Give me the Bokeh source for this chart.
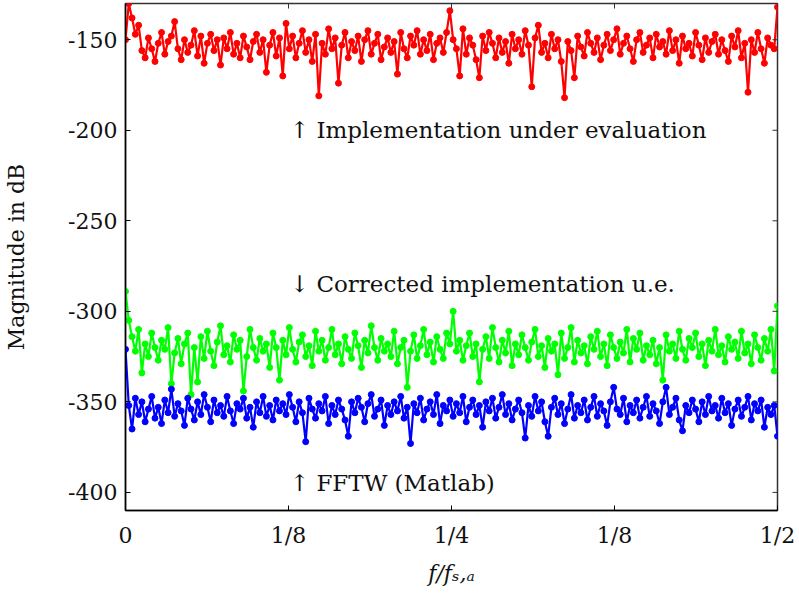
from bokeh.plotting import figure
from bokeh.models import FixedTicker, Range1d
from bokeh.core.properties import value
from bokeh.embed import file_html
from bokeh.resources import INLINE

red_db = [
    -150, -130, -138, -147, -142, -156, -160, -149, -155, -162,
    -152, -146, -158, -151, -148, -140, -155, -161, -150, -157,
    -153, -145, -159, -148, -163, -152, -147, -156, -150, -164,
    -149, -155, -146, -158, -152, -160, -148, -154, -161, -151,
    -147, -157, -150, -168, -153, -146, -159, -149, -170, -141,
    -155, -148, -160, -152, -145, -157, -150, -162, -147, -181,
    -152, -158, -144, -155, -149, -174, -153, -146, -160, -151,
    -156, -148, -162, -150, -145, -158, -152, -147, -161, -154,
    -149, -157, -151, -169, -146, -155, -160, -148, -153, -145,
    -158, -150, -156, -147, -161, -152, -149, -157, -146, -134,
    -150, -155, -170, -144, -158, -149, -153, -161, -171, -148,
    -156, -146, -152, -160, -149, -157, -151, -163, -147, -155,
    -150, -158, -145, -153, -176, -149, -142, -157, -152, -160,
    -147, -155, -150, -162, -182, -151, -156, -171, -148, -154,
    -159, -146, -152, -157, -149, -161, -153, -147, -156, -150,
    -144, -158, -152, -148, -155, -162, -150, -146, -157, -153,
    -149, -160, -147, -154, -151, -158, -145, -156, -150, -163,
    -148, -155, -152, -159, -146, -153, -161, -149, -157, -151,
    -147, -158, -150, -156, -162, -148, -154, -145, -160, -152,
    -179, -150, -157, -146, -155, -163, -149, -153, -155, -132,
]

green_db = [
    -289, -305, -314, -322, -310, -334, -318, -325, -312, -320,
    -327, -316, -321, -309, -340, -323, -315, -329, -318, -312,
    -346, -320, -339, -314, -326, -311, -322, -330, -317, -308,
    -324, -319, -328, -313, -321, -316, -344, -325, -310, -320,
    -327, -315, -322, -318, -331, -312, -320, -338, -316, -324,
    -309, -321, -328, -317, -313, -325, -319, -330, -311, -322,
    -316, -327, -320, -310, -324, -318, -329, -314, -321, -326,
    -312, -319, -331, -316, -323, -308, -320, -327, -315, -322,
    -318, -325, -311, -329, -320, -316, -342, -322, -313, -326,
    -319, -310, -324, -317, -328, -314, -321, -326, -312, -318,
    -300, -322, -316, -327, -319, -312, -325, -318, -339, -321,
    -314, -326, -309, -320, -328, -316, -323, -311, -330, -318,
    -324, -313, -320, -327, -317, -310, -325, -319, -331, -315,
    -322, -318, -335, -312, -326, -320, -309, -328, -316, -323,
    -319, -329, -314, -321, -311, -325, -318, -330, -313, -320,
    -326, -317, -323, -310, -328, -315, -321, -312, -327, -319,
    -324, -316, -329, -320, -338, -313, -322, -318, -326, -311,
    -321, -327, -315, -320, -312, -325, -318, -330, -316, -322,
    -310, -324, -319, -328, -314, -321, -317, -326, -311, -323,
    -318, -329, -313, -320, -327, -315, -322, -310, -333, -297,
]

blue_db = [
    -321, -352, -365, -348, -357, -350, -361, -354, -347, -359,
    -353, -362, -349, -356, -343, -358, -351, -355, -363, -348,
    -354, -360, -350, -357, -346, -353, -361, -349, -356, -352,
    -358, -347, -355, -362, -351, -354, -348, -359, -353, -364,
    -350, -356, -347, -358, -352, -360, -349, -355, -351, -357,
    -346, -353, -361, -350, -356, -372, -348, -354, -359, -351,
    -355, -347, -362, -352, -357, -349, -354, -360, -369, -350,
    -356, -348, -353, -361, -351, -346, -358, -354, -349, -363,
    -352, -357, -350, -355, -347, -359, -353, -373, -351, -356,
    -348, -360, -354, -350, -357, -346, -362, -352, -355, -349,
    -358, -351, -356, -347, -361, -353, -349, -357, -352, -364,
    -350, -355, -348, -359, -353, -346, -357, -351, -360, -354,
    -349, -356, -370, -352, -358, -347, -355, -350, -361, -369,
    -353, -348, -357, -351, -362, -354, -346, -359, -352, -356,
    -349, -360, -353, -347, -358, -351, -355, -363, -350, -342,
    -354, -357, -348, -361, -352, -356, -349, -359, -353, -347,
    -358, -351, -355, -362, -350, -342, -357, -353, -348, -360,
    -366, -352, -356, -349, -354, -361, -350, -357, -347, -355,
    -352, -359, -348, -356, -351, -363, -354, -349, -358, -353,
    -347, -360, -351, -355, -349, -364, -353, -357, -352, -369,
]

n_points = len(red_db)
freq = [0.5 * i / (n_points - 1) for i in range(n_points)]

x_ticks = [0, 0.125, 0.25, 0.375, 0.5]
x_tick_labels = ["0", "1/8", "1/4", "1/8", "1/2"]
y_ticks = [-400, -350, -300, -250, -200, -150]
y_tick_labels = ["-400", "-350", "-300", "-250", "-200", "-150"]

annot_x = [0.126, 0.126, 0.126]
annot_y = [-200, -285, -395]
annot_text = ["\u2191 Implementation under evaluation",
              "\u2193 Corrected implementation u.e.",
              "\u2191 FFTW (Matlab)"]

X_MIN, X_MAX, Y_MIN, Y_MAX = 0, 0.5, -410, -130
FONT = "DejaVu Serif"

p = figure(width=799, height=594, output_backend="svg", toolbar_location=None,
           x_range=Range1d(X_MIN, X_MAX), y_range=Range1d(Y_MIN, Y_MAX),
           min_border_left=125, min_border_right=22, min_border_top=3,
           min_border_bottom=84)
p.background_fill_color = "white"
p.border_fill_color = "white"
p.grid.visible = False
p.outline_line_color = "#333333"
p.outline_line_width = 1.5

for series, col in ((red_db, "#ff0000"), (green_db, "#00ff00"), (blue_db, "#0000ff")):
    p.line(freq, series, line_color=col, line_width=2.2)
    p.scatter(freq, series, size=6, fill_color=col, line_color=col)

# mirrored tick marks on the top and right frame edges (clipped to the frame)
p.scatter(x_ticks, [Y_MAX] * len(x_ticks), marker="dash", angle=1.5708,
          size=10, line_color="#333333", line_width=1)
p.scatter([X_MAX] * len(y_ticks), y_ticks, marker="dash",
          size=10, line_color="#333333", line_width=1)

p.text(annot_x, annot_y, text=annot_text, text_font=value(FONT),
       text_font_size="23px", text_baseline="middle", text_align="left",
       text_color="#111111")

xa = p.xaxis[0]
xa.ticker = FixedTicker(ticks=x_ticks)
xa.major_label_overrides = {t: l for t, l in zip(x_ticks, x_tick_labels)}
xa.axis_label = "f/f\u209b,\u2090"
xa.axis_label_text_font_style = "italic"
ya = p.yaxis[0]
ya.ticker = FixedTicker(ticks=y_ticks)
ya.major_label_overrides = {t: l for t, l in zip(y_ticks, y_tick_labels)}
ya.axis_label = "Magnitude in dB"
ya.axis_label_text_font_style = "normal"

for ax in (xa, ya):
    ax.axis_line_color = "black"
    ax.axis_line_width = 1.5
    ax.major_tick_in = 5
    ax.major_tick_out = 0
    ax.major_tick_line_color = "black"
    ax.minor_tick_line_color = None
    ax.major_label_text_font = FONT
    ax.major_label_text_font_size = "22px"
    ax.major_label_text_color = "#111111"
    ax.axis_label_text_font = FONT
    ax.axis_label_text_font_size = "22px"
    ax.axis_label_text_color = "#111111"
xa.major_label_standoff = 12
xa.axis_label_standoff = 10
ya.major_label_standoff = 8
ya.axis_label_standoff = 36

open("out.html", "w").write(file_html(p, INLINE))
